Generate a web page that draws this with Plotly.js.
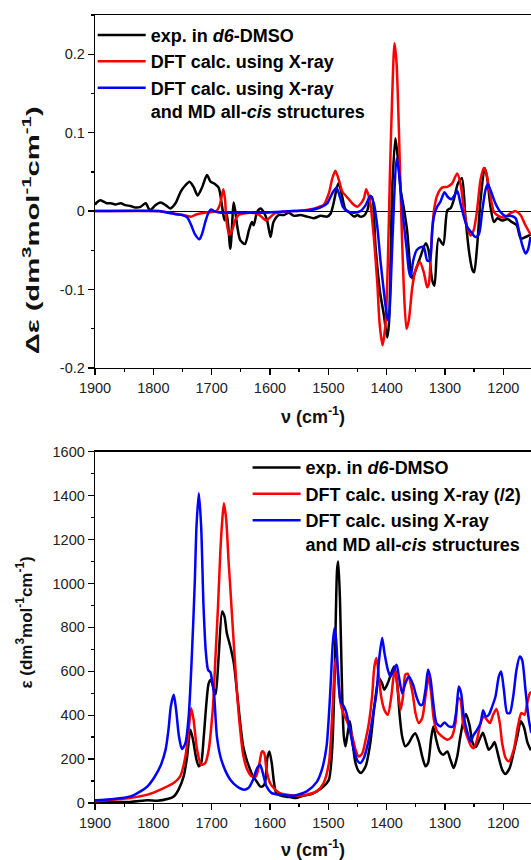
<!DOCTYPE html>
<html>
<head>
<meta charset="utf-8">
<script src="https://cdn.plot.ly/plotly-3.0.1.min.js"></script>
<style>html,body{margin:0;padding:0;background:#fff;overflow:hidden}#chart{width:531px;height:860px}</style>
</head>
<body>
<div id="chart"></div>
<script>
// ---------- VCD (top panel) ----------
const vcdExpX = [1900,1897,1891,1885,1880,1873,1865,1856,1848,1839,1831,1822,1813,1806,1796,1788,1779,1771,1762,1753,1745,1738,1731,1724,1716,1708,1702,1695,1688,1682,1678,1674,1668,1662,1656,1651,1643,1636,1631,1628,1622,1616,1611,1605,1599,1594,1585,1576,1568,1559,1548,1536,1525,1513,1502,1496,1491,1485,1482,1476,1471,1462,1456,1450,1445,1439,1433,1428,1425,1419,1411,1405,1399,1396,1390.5,1385,1381,1376,1371,1365,1359,1356,1350,1342,1333,1328,1322,1318,1311,1303,1296,1290,1285,1278,1271,1265,1259,1253,1250,1245,1239,1232,1228,1222,1216,1210,1202,1193,1185,1177,1170,1162,1153];
const vcdExpY = [0.008,0.011,0.014,0.012,0.010,0.010,0.0085,0.010,0.0077,0.0065,0.0047,0.0055,0.010,0.001,0.0077,0.011,0.0077,0.0034,0.010,0.025,0.033,0.0375,0.031,0.020,0.031,0.046,0.0375,0.035,0.030,0.0055,-0.0115,-0.003,-0.048,0.011,-0.020,-0.037,-0.042,-0.024,-0.014,-0.018,-0.001,0.0034,-0.001,-0.0115,-0.033,-0.014,-0.005,-0.005,-0.002,-0.006,-0.005,-0.007,-0.009,-0.006,-0.007,-0.003,0.0098,0.031,0.036,0.018,0.003,-0.003,-0.007,-0.005,-0.007,-0.006,0.0013,0.017,0.018,-0.046,-0.105,-0.131,-0.161,-0.143,0.027,0.093,0.069,0.027,0.006,-0.024,-0.075,-0.086,-0.075,-0.058,-0.041,-0.050,-0.088,-0.095,-0.035,-0.043,0.001,0.004,0.014,0.035,0.042,-0.007,-0.050,-0.075,-0.078,-0.046,0.014,0.055,0.044,0.006,-0.014,-0.009,-0.012,-0.010,-0.014,-0.018,-0.035,-0.033,-0.030];

const vcdXrayX = [1900,1800,1780,1765,1750,1735,1725,1712,1700,1692,1686,1680,1677,1675,1670,1665,1660,1654,1645,1632,1620,1612,1607,1600,1592,1580,1560,1540,1525,1514,1508,1499,1493,1488,1482,1476,1468,1459,1450,1445,1439,1435,1431,1428,1422,1416,1412,1407,1402,1398,1394.6,1390.5,1386.5,1383,1379,1375,1370.6,1366,1362,1356,1350.5,1343,1336,1330.5,1327.7,1323.6,1319,1313.4,1305,1296,1288,1279,1273.4,1268,1262,1256,1250.6,1245,1239,1233.4,1229,1223,1216,1208,1199,1188,1179,1170.5,1162,1153];
const vcdXrayY = [0,0,-0.001,-0.003,-0.005,-0.007,-0.004,-0.002,-0.001,0.000,0.008,0.028,0.015,-0.010,-0.030,-0.025,-0.012,-0.005,-0.003,-0.002,-0.004,-0.009,-0.012,-0.008,-0.003,-0.001,0,0.001,0.003,0.006,0.008,0.023,0.042,0.0515,0.040,0.025,0.018,0.010,0.0055,0.009,0.016,0.028,0.020,0.010,-0.033,-0.092,-0.144,-0.171,-0.144,-0.067,0.040,0.146,0.214,0.189,0.104,-0.003,-0.097,-0.150,-0.139,-0.097,-0.075,-0.065,-0.079,-0.097,-0.093,-0.046,0.000,0.020,0.030,0.031,0.035,0.048,0.035,0.0055,-0.020,-0.031,-0.024,0.001,0.040,0.055,0.048,0.023,-0.001,-0.0065,-0.008,-0.003,0.000,-0.005,-0.018,-0.030];

const vcdMdX = [1900,1790,1775,1762,1750,1742,1735,1729,1721,1716,1711,1706,1701,1696,1685,1660,1630,1610,1590,1560,1535,1520,1510,1502,1493,1486,1480,1475,1468,1456,1445,1436,1428,1422,1416,1410.6,1405,1399,1396.3,1392,1387.7,1383,1379,1375,1370.6,1366,1362,1359,1354.4,1348.8,1342,1336.3,1330.5,1326,1322,1319,1313.4,1307.7,1301,1295,1289.4,1283.7,1279,1273.4,1267.7,1262,1256,1248,1242,1236,1230.5,1226.6,1222,1213.4,1205,1196,1188,1179,1173.4,1167.6,1162,1158,1153.4];
const vcdMdY = [0,0,-0.002,-0.004,-0.005,-0.008,-0.018,-0.029,-0.036,-0.028,-0.014,-0.003,0.002,0.000,-0.002,-0.002,-0.002,-0.002,-0.001,0.000,0.001,0.003,0.006,0.0098,0.023,0.0298,0.018,0.0055,0.000,-0.002,0.000,0.0077,0.0196,0.010,-0.020,-0.063,-0.101,-0.135,-0.140,-0.075,0.006,0.067,0.052,0.018,-0.016,-0.046,-0.075,-0.084,-0.063,-0.050,-0.046,-0.046,-0.063,-0.063,-0.025,-0.007,0.0055,0.012,0.024,0.018,0.015,0.020,0.026,0.0098,-0.007,-0.020,-0.026,-0.033,-0.030,0.001,0.027,0.0345,0.027,0.0098,-0.001,-0.0065,-0.006,-0.009,-0.024,-0.043,-0.054,-0.050,-0.033];

// ---------- IR (bottom panel) ----------
const irExpX = [1900,1840,1810,1793,1776,1765,1757,1748,1742,1736.5,1732,1726,1722,1718,1713.5,1709,1705,1701,1696,1693,1688,1682,1678,1674,1668,1662,1657,1651,1646,1640,1634,1629,1623,1617,1612.6,1608.6,1604.6,1601,1597,1593,1589,1577,1566,1555,1543,1532,1520,1508,1499,1493.4,1488.8,1485,1483,1480,1476,1473.4,1470.6,1467.7,1463,1459,1453.4,1447.7,1443.7,1436,1428,1421,1413.4,1408,1404,1398,1392,1387,1382,1377.5,1373.4,1368,1362,1356,1351,1345,1339,1333.4,1329,1324,1320,1315,1309,1303,1296,1290.6,1285,1279,1273.6,1268,1264,1258,1252.5,1247,1241,1235,1230,1225,1219.4,1215,1209,1202,1196.5,1189,1182.5,1176,1170,1164.5,1158.7,1152.8];
const irExpY = [5,5,12,10,18,30,60,121,212,334,288,197,167,182,303,455,546,561,516,495,667,872,850,774,713,637,516,364,258,197,152,121,99,76,76,91,205,235,182,91,45,30,27,23,33,38,53,76,106,243,622,1062,1100,925,470,303,258,303,372,288,182,144,137,167,273,440,569,546,516,546,592,622,546,394,303,258,273,303,318,281,212,167,182,288,349,288,235,220,235,197,159,212,303,379,405,356,273,255,288,320,281,243,258,278,220,152,132,160,228,303,372,345,277,240];

const irXrayX = [1900,1840,1810,1782,1765,1754,1745,1739.4,1735,1731,1725,1718,1711,1705,1699.6,1697,1694,1689,1685,1682,1679,1675,1671,1668,1665,1660,1656,1652,1646,1639,1631,1624,1618,1613.7,1610,1606,1600,1591,1583,1571,1554,1537,1520,1508,1499,1493.4,1488.8,1486,1483,1479,1474.5,1468,1459,1453.4,1448,1442,1436,1430.5,1425,1421,1417.4,1413.4,1409.4,1404,1398,1392,1388,1385,1381,1376,1372,1368,1364,1359,1354.6,1350.6,1345,1339,1333.4,1327.7,1323.7,1319,1313.4,1305,1296,1288,1282,1277.4,1273.4,1269,1262,1255,1250.6,1245,1239,1233.4,1228,1223,1217.4,1211.7,1206,1202,1196,1190.5,1182,1175,1169,1163.6,1159,1154.5,1152];
const irXrayY = [8,23,38,68,91,121,212,334,432,379,243,174,182,243,379,470,637,900,1150,1280,1365,1290,1100,980,850,640,485,360,220,152,121,121,182,235,228,152,91,61,45,38,33,38,53,91,182,394,622,660,576,455,410,372,303,243,212,225,288,364,485,622,660,576,485,425,402,485,576,599,516,425,485,584,589,546,485,410,364,387,485,576,500,379,326,303,288,303,364,478,470,364,303,258,250,288,364,394,379,364,402,428,364,273,205,190,243,349,410,402,455,500,505];

const irMdX = [1900,1868,1839,1822,1810,1799,1788,1779,1774,1770,1765,1761,1756,1751,1745,1739.4,1734,1729,1726,1722,1718,1714,1710,1706,1702,1699,1696,1691,1685,1676,1668,1657,1646,1637,1629,1622,1617,1613,1606,1597,1583,1560,1537,1520,1511,1503,1497.4,1492.3,1489.4,1486.6,1483,1479,1473.4,1469,1463,1456.3,1449.4,1445,1439,1433.3,1427.6,1422,1417.4,1413,1407.7,1403.7,1398,1393.4,1387.7,1383,1379,1373.4,1367.7,1362,1354.6,1349,1343,1338.6,1333.4,1329,1325,1320,1314.6,1307.7,1301,1293.4,1286,1280.3,1276.3,1272.3,1267.7,1262,1256.3,1250.6,1244.8,1239,1234.5,1230,1224.8,1219,1213.4,1207.7,1203.7,1199,1193.4,1188.8,1183,1177.4,1171.7,1167.7,1162,1156.3,1152];
const irMdY = [12,18,30,53,76,114,167,243,334,440,493,425,303,246,273,394,667,1000,1259,1411,1259,900,690,605,595,550,500,303,212,144,106,76,61,68,106,159,174,144,76,45,38,33,53,95,152,258,470,728,796,743,576,463,440,410,334,243,190,182,205,258,334,425,500,652,751,683,607,576,607,630,576,500,546,576,539,485,448,448,516,607,569,455,364,349,367,349,349,425,531,500,394,326,281,311,334,364,422,394,402,440,485,576,599,516,410,410,485,607,667,652,516,380,320];

const xTickVals = [1900,1800,1700,1600,1500,1400,1300,1200];
const vcdTickVals = [-0.2,-0.1,0,0.1,0.2];
const vcdTickText = ['-0.2','-0.1','0','0.1','0.2'];

const vcdNames = ['exp. in <i>d6</i>-DMSO','DFT calc. using X-ray','DFT calc. using X-ray<br>and MD all-<i>cis</i> structures'];
const irNames = ['exp. in <i>d6</i>-DMSO','DFT calc. using X-ray (/2)','DFT calc. using X-ray<br>and MD all-<i>cis</i> structures'];
const colors = ['#000000','#ff0000','#0000ff'];

const FONT = 'Liberation Sans, Arial, Helvetica, sans-serif';

function tr(x, y, i, names, xa, ya, leg) {
  return {x: x, y: y, type: 'scatter', mode: 'lines', name: names[i],
    xaxis: xa, yaxis: ya, legend: leg,
    line: {color: colors[i], width: 2.5, shape: 'spline', smoothing: 0.7},
    hoverinfo: 'skip'};
}

const data = [
  tr(vcdExpX, vcdExpY, 0, vcdNames, 'x', 'y', 'legend'),
  tr(vcdXrayX, vcdXrayY, 1, vcdNames, 'x', 'y', 'legend'),
  tr(vcdMdX, vcdMdY, 2, vcdNames, 'x', 'y', 'legend'),
  tr(irExpX, irExpY, 0, irNames, 'x2', 'y2', 'legend2'),
  tr(irXrayX, irXrayY, 1, irNames, 'x2', 'y2', 'legend2'),
  tr(irMdX, irMdY, 2, irNames, 'x2', 'y2', 'legend2')
];

function xAxis(anchor) {
  return {anchor: anchor, domain: [0, 1], range: [1900, 1152.5],
    showline: true, linecolor: '#000', linewidth: 1.3, mirror: true,
    ticks: 'outside', ticklen: 6, tickwidth: 1.3, tickcolor: '#000',
    tickmode: 'array', tickvals: xTickVals,
    minor: {tickmode: 'linear', tick0: 1900, dtick: 50, ticks: 'outside', ticklen: 3, tickwidth: 1.3, tickcolor: '#000'},
    showgrid: false, zeroline: false,
    tickfont: {family: FONT, size: 14.5, color: '#222'},
    title: {text: 'ν (cm<sup>-1</sup>)', font: {family: FONT, size: 18, weight: 'bold', color: '#111'}, standoff: 15}};
}

const legendFont = {family: FONT, size: 18, weight: 'bold', color: '#000'};

const layout = {
  width: 531, height: 860,
  margin: {l: 95, r: 0, t: 15, b: 57},
  paper_bgcolor: '#fff', plot_bgcolor: '#fff',
  font: {family: FONT, color: '#000'},
  showlegend: true,
  xaxis: xAxis('y'),
  xaxis2: xAxis('y2'),
  yaxis: {domain: [0.552, 1], range: [-0.2, 0.25],
    showline: true, linecolor: '#000', linewidth: 1.3,
    ticks: 'outside', ticklen: 6, tickwidth: 1.3, tickcolor: '#000',
    tickmode: 'array', tickvals: vcdTickVals, ticktext: vcdTickText,
    minor: {tickmode: 'linear', tick0: 0, dtick: 0.05, ticks: 'outside', ticklen: 3, tickwidth: 1.3, tickcolor: '#000'},
    showgrid: false, zeroline: true, zerolinecolor: '#000', zerolinewidth: 1,
    tickfont: {family: FONT, size: 14.5, color: '#222'}},
  yaxis2: {domain: [0, 0.4458], range: [0, 1600],
    showline: true, linecolor: '#000', linewidth: 1.3,
    ticks: 'outside', ticklen: 6, tickwidth: 1.3, tickcolor: '#000',
    tickmode: 'linear', tick0: 0, dtick: 200,
    minor: {tickmode: 'linear', tick0: 0, dtick: 100, ticks: 'outside', ticklen: 3, tickwidth: 1.3, tickcolor: '#000'},
    showgrid: false, zeroline: false,
    tickfont: {family: FONT, size: 14.5, color: '#222'}},
  legend: {x: -0.0053, y: 0.9978, xanchor: 'left', yanchor: 'top', bgcolor: 'rgba(0,0,0,0)',
    font: legendFont, valign: 'top', tracegroupgap: 0, itemwidth: 48},
  legend2: {x: 0.350, y: 0.449, xanchor: 'left', yanchor: 'top', bgcolor: 'rgba(0,0,0,0)',
    font: legendFont, valign: 'top', tracegroupgap: 0, itemwidth: 48},
  annotations: [
    {text: 'Δε (dm<sup>3</sup>mol<sup>-1</sup>cm<sup>-1</sup>)', xref: 'paper', yref: 'paper',
     x: -0.147, y: 0.727, textangle: -90, showarrow: false, xanchor: 'center', yanchor: 'middle',
     font: {family: FONT, size: 19, weight: 'bold', color: '#111'}},
    {text: 'ε (dm<sup>3</sup>mol<sup>-1</sup>cm<sup>-1</sup>)', xref: 'paper', yref: 'paper',
     x: -0.163, y: 0.229, textangle: -90, showarrow: false, xanchor: 'center', yanchor: 'middle',
     font: {family: FONT, size: 17, weight: 'bold', color: '#111'}}
  ]
};

Plotly.newPlot('chart', data, layout, {displayModeBar: false, staticPlot: true}).then(function (gd) {
  // the top y title of the reference is drawn stretched along its length
  const t = gd.querySelector('.annotation[data-index="0"] text.annotation-text');
  if (t) {
    t.setAttribute('textLength', '248');
    t.setAttribute('lengthAdjust', 'spacingAndGlyphs');
  }
});
</script>
</body>
</html>
